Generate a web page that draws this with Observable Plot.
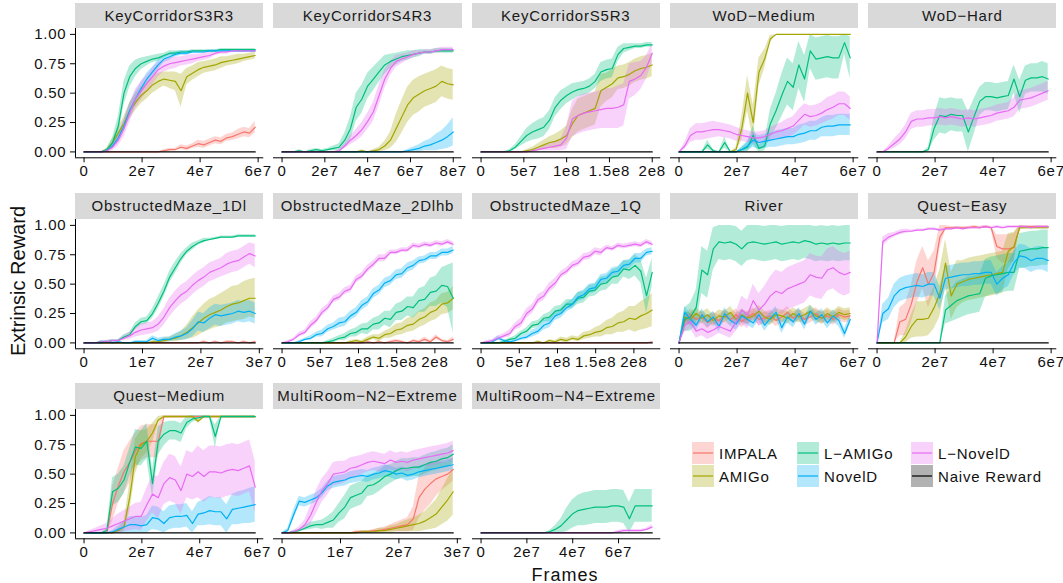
<!DOCTYPE html>
<html><head><meta charset="utf-8">
<script src="https://cdn.jsdelivr.net/npm/d3@7"></script>
<script src="https://cdn.jsdelivr.net/npm/@observablehq/plot@0.6"></script>
<style>
body{margin:0;background:#fff;}
#root{position:relative;width:1063px;height:583px;overflow:hidden;background:#fff;font-family:"Liberation Sans",Arial,sans-serif;color:#111;}
.strip{position:absolute;background:#d9d9d9;color:#1a1a1a;font-size:15px;letter-spacing:0.8px;text-align:center;white-space:nowrap;}
.panel{position:absolute;}
.ttl{position:absolute;white-space:nowrap;color:#111;}
.leg{position:absolute;font-size:15px;letter-spacing:0.8px;white-space:nowrap;color:#111;}
</style></head><body><div id="root"></div>
<script>
// ---------- series ----------
const seriesNames  = ["IMPALA","AMIGo","L-AMIGo","NovelD","L-NovelD","Naive Reward"];
const seriesLabels = ["IMPALA","AMIGo","L\u2212AMIGo","NovelD","L\u2212NovelD","Naive Reward"];
const seriesColors = ["#F8766D","#A3A500","#00BF7D","#00B0F6","#E76BF3","#000000"];
const naiveReward  = [0, 0];            // flat zero over each panel's frame range
const yTicks       = [0, 0.25, 0.5, 0.75, 1];
const yTickLabels  = ["0.00","0.25","0.50","0.75","1.00"];

// ---------- panels ----------
const panelTitles = ["KeyCorridorS3R3","KeyCorridorS4R3","KeyCorridorS5R3","WoD\u2212Medium","WoD\u2212Hard",
  "ObstructedMaze_1Dl","ObstructedMaze_2Dlhb","ObstructedMaze_1Q","River","Quest\u2212Easy",
  "Quest\u2212Medium","MultiRoom\u2212N2\u2212Extreme","MultiRoom\u2212N4\u2212Extreme"];
const panelXEnd = [5.9e7, 8e7, 2e8, 5.9e7, 5.9e7, 2.93e7, 2.24e8, 2.24e8, 5.9e7, 5.9e7, 5.92e7, 2.93e7, 7.47e7];
const panelTicks = [[0,2e7,4e7,6e7],[0,2e7,4e7,6e7,8e7],[0,5e7,1e8,1.5e8,2e8],[0,2e7,4e7,6e7],[0,2e7,4e7,6e7],
  [0,1e7,2e7,3e7],[0,5e7,1e8,1.5e8,2e8],[0,5e7,1e8,1.5e8,2e8],[0,2e7,4e7,6e7],[0,2e7,4e7,6e7],
  [0,2e7,4e7,6e7],[0,1e7,2e7,3e7],[0,2e7,4e7,6e7]];
const panelTickLabels = [["0","2e7","4e7","6e7"],["0","2e7","4e7","6e7","8e7"],["0","5e7","1e8","1.5e8","2e8"],["0","2e7","4e7","6e7"],["0","2e7","4e7","6e7"],
  ["0","1e7","2e7","3e7"],["0","5e7","1e8","1.5e8","2e8"],["0","5e7","1e8","1.5e8","2e8"],["0","2e7","4e7","6e7"],["0","2e7","4e7","6e7"],
  ["0","2e7","4e7","6e7"],["0","1e7","2e7","3e7"],["0","2e7","4e7","6e7"]];

// values in percent of extrinsic reward, evenly spaced over [0, xEnd]; band = half width of shaded ribbon
const mean_KC3 = {
 "IMPALA":  [0,0,0,0,0,0,0,0,0,0,0,0,0,0,1,2,2,4,3,5,7,6,8,10,9,12,13,15,17,16,21],
 "AMIGo":   [0,0,0,0,2,8,16,24,35,42,48,52,57,60,62,61,60,52,64,67,70,72,73,74,76,77,78,79,80,81,82],
 "L-AMIGo": [0,0,0,0,2,8,22,50,64,71,75,77,79,80,82,84,84,85,85,86,86,86,86,86,87,87,87,87,87,87,87],
 "NovelD":  [0,0,0,0,1,5,12,22,35,45,54,62,68,74,79,81,83,84,84,85,85,85,86,86,86,86,86,86,86,86,86],
 "L-NovelD":[0,0,0,0,1,4,10,20,33,45,52,58,64,70,73,75,76,77,78,79,80,81,82,84,85,85,86,86,86,86,86]};
const band_KC3 = {
 "IMPALA":  [0,0,0,0,0,0,0,0,0,0,0,0,0,0,1,1,1,2,2,2,3,3,3,3,3,3,3,4,4,4,5],
 "AMIGo":   [0,0,0,0,1,3,5,6,7,7,7,7,7,7,6,7,8,14,7,6,6,5,5,5,5,4,4,4,3,3,3],
 "L-AMIGo": [0,0,0,0,1,4,8,10,9,7,5,4,3,3,2,2,2,1,1,1,1,1,1,1,1,1,1,1,1,1,1],
 "NovelD":  [0,0,0,0,1,2,4,5,6,6,5,5,4,4,3,3,2,2,2,1,1,1,1,1,1,1,1,1,1,1,1],
 "L-NovelD":[0,0,0,0,1,3,5,7,8,8,8,7,7,6,5,5,5,4,4,4,3,3,3,2,2,2,1,1,1,1,1]};

const mean_KC4 = {
 "AMIGo":   [0,0,0,0,0,0,0,0,0,0,0,0,0,0,1,0,1,2,5,10,20,30,40,46,49,52,54,56,60,58,57],
 "L-AMIGo": [0,0,0,1,0,1,2,1,2,3,4,10,20,38,45,56,62,68,74,77,79,81,82,83,84,85,85,86,86,86,86],
 "NovelD":  [0,0,0,0,0,0,0,0,0,0,0,0,0,0,0,0,0,0,0,0,0,0,1,2,3,5,6,8,10,13,17],
 "L-NovelD":[0,0,0,0,0,0,0,0,0,0,1,5,10,14,19,26,34,48,62,71,77,79,81,83,84,85,85,86,87,87,87]};
const band_KC4 = {
 "AMIGo":   [0,0,0,0,0,0,0,0,0,0,0,0,0,0,1,0,1,2,4,7,12,14,15,15,15,14,14,14,13,13,13],
 "L-AMIGo": [0,0,0,1,0,1,1,1,1,2,3,6,10,12,12,11,10,9,8,6,5,4,4,3,3,2,2,2,2,2,2],
 "NovelD":  [0,0,0,0,0,0,0,0,0,0,0,0,0,0,0,0,0,0,0,0,0,0,1,2,3,4,5,7,8,10,12],
 "L-NovelD":[0,0,0,0,0,0,0,0,0,0,1,2,4,5,6,7,8,9,8,6,5,4,3,3,2,2,2,2,2,2,2]};

const mean_KC5 = {
 "AMIGo":   [0,0,0,0,0,0,0,0,1,2,4,6,8,9,11,14,24,31,33,35,37,52,55,58,63,64,66,69,71,72,74],
 "L-AMIGo": [0,0,0,0,0,1,4,9,14,17,19,21,27,38,44,48,51,53,54,56,60,68,70,71,83,88,89,90,90,91,91],
 "L-NovelD":[0,0,0,0,0,0,0,0,0,1,2,3,4,5,6,12,28,31,33,34,35,36,37,37,38,40,60,62,65,72,84]};
const band_KC5 = {
 "AMIGo":   [0,0,0,0,0,0,0,0,1,2,3,4,5,6,7,8,12,14,14,14,14,14,12,12,10,10,10,10,10,10,10],
 "L-AMIGo": [0,0,0,0,0,1,2,4,6,7,8,8,8,8,8,7,7,6,6,6,6,8,8,8,6,4,3,2,2,2,2],
 "L-NovelD":[0,0,0,0,0,0,0,0,0,1,1,2,3,4,5,10,15,16,16,16,16,16,17,17,18,18,15,14,12,10,8]};

const mean_WoDM = {
 "AMIGo":   [0,0,0,0,0,0,0,0,0,0,2,20,50,25,68,79,96,100,100,100,100,100,100,100,100,100,100,100,100,100,100],
 "L-AMIGo": [0,0,0,0,0,6,1,0,8,0,0,2,4,14,3,5,24,35,48,60,55,74,62,86,79,80,81,80,80,93,80],
 "NovelD":  [0,0,0,0,0,0,0,0,0,0,0,2,5,10,8,9,10,11,12,13,13,15,16,18,18,21,22,22,23,23,23],
 "L-NovelD":[0,5,14,17,17,18,19,19,18,17,15,14,13,12,12,13,15,17,18,20,22,27,32,30,31,33,36,38,41,41,37]};
const band_WoDM = {
 "AMIGo":   [0,0,0,0,0,0,0,0,0,0,2,10,15,15,12,8,3,0,0,0,0,0,0,0,0,0,0,0,0,0,0],
 "L-AMIGo": [0,0,0,0,0,4,1,0,5,0,0,2,4,8,3,4,12,15,18,20,20,20,20,15,18,18,18,18,18,10,18],
 "NovelD":  [0,0,0,0,0,0,0,0,0,0,0,2,4,6,6,6,6,7,7,7,7,8,8,8,8,8,9,9,9,9,9],
 "L-NovelD":[0,3,6,7,7,7,7,6,6,6,6,5,5,5,5,5,6,6,7,8,8,9,9,9,9,9,10,10,10,10,10]};

const mean_WoDH = {
 "L-AMIGo": [0,0,0,0,0,0,0,0,0,2,20,31,30,32,31,31,17,30,43,47,47,46,47,48,62,47,61,63,63,64,62],
 "L-NovelD":[0,0,3,7,11,17,26,28,28,29,29,30,29,30,29,28,29,28,29,30,31,33,34,35,38,44,45,46,48,50,52]};
const band_WoDH = {
 "L-AMIGo": [0,0,0,0,0,0,0,0,0,2,10,15,15,14,14,14,17,15,12,12,12,12,12,12,12,14,12,12,12,13,13],
 "L-NovelD":[0,0,2,4,5,6,7,7,7,7,7,7,7,7,7,7,7,7,7,7,7,7,7,7,8,8,8,8,8,8,8]};

const mean_OM1Dl = {
 "IMPALA":  [0,0,0,0,0,0,0,0,0,0,0,0,0,0,0,0,0,0,0,0,0,1,0,1,0,1,1,0,1,0,1],
 "AMIGo":   [0,0,0,0,0,0,0,0,0,0,0,0,1,1,2,3,4,6,9,13,17,21,24,26,28,31,33,34,36,38,38],
 "L-AMIGo": [0,0,0,1,1,2,2,5,7,14,18,19,25,34,44,56,64,72,78,82,85,87,88,89,90,90,90,91,91,91,91],
 "NovelD":  [0,0,0,0,1,0,1,0,0,1,1,1,4,2,3,3,5,6,8,12,18,17,21,24,23,24,25,27,26,27,25],
 "L-NovelD":[0,0,0,1,1,2,2,4,6,9,11,12,13,16,22,30,36,41,44,49,53,56,60,62,64,67,69,70,73,76,74]};
const band_OM1Dl = {
 "IMPALA":  [0,0,0,0,0,0,0,0,0,0,0,0,0,0,0,0,0,0,0,0,0,1,0,1,0,1,1,0,1,0,1],
 "AMIGo":   [0,0,0,0,0,0,0,0,0,0,0,0,1,1,2,2,3,4,6,9,11,12,13,13,14,14,15,15,16,16,17],
 "L-AMIGo": [0,0,0,1,1,1,1,2,2,3,3,3,4,5,5,5,5,4,3,3,2,2,1,1,1,1,1,1,1,1,1],
 "NovelD":  [0,0,0,0,1,0,1,0,0,1,1,1,2,2,2,2,3,4,5,7,8,8,9,9,9,9,9,9,9,9,9],
 "L-NovelD":[0,0,0,1,1,1,1,2,3,4,5,5,5,6,7,8,8,8,8,8,8,8,8,8,8,9,9,9,9,9,10]};

const mean_OM2Dlhb = {
 "IMPALA":  [0,0,0,0,0,0,0,0,0,0,0,0,0,0,0,1,0,1,0,1,2,1,0,2,1,3,1,5,2,1,3],
 "AMIGo":   [0,0,0,0,0,0,0,0,0,0,0,0,1,2,1,3,5,4,7,8,11,12,15,16,20,22,26,28,33,34,38],
 "L-AMIGo": [0,0,0,0,0,0,0,0,1,2,4,5,8,9,12,12,16,17,21,20,26,27,31,30,36,37,43,44,49,48,38],
 "NovelD":  [0,0,0,1,3,4,7,8,12,14,17,18,23,26,32,35,42,45,51,53,58,59,64,66,70,71,74,74,77,77,79],
 "L-NovelD":[0,1,3,7,9,15,19,26,30,37,39,44,46,54,57,63,67,72,72,77,77,79,79,83,82,84,83,85,84,86,84]};
const band_OM2Dlhb = {
 "IMPALA":  [0,0,0,0,0,0,0,0,0,0,0,0,0,0,0,1,0,1,0,1,1,1,0,1,1,2,1,2,1,1,2],
 "AMIGo":   [0,0,0,0,0,0,0,0,0,0,0,0,1,1,1,2,2,3,3,4,5,5,6,6,7,7,8,8,9,9,10],
 "L-AMIGo": [0,0,0,0,0,0,0,0,1,2,2,3,3,4,4,5,5,6,6,7,7,8,8,9,10,11,12,13,15,18,30],
 "NovelD":  [0,0,0,1,1,2,2,3,3,3,4,4,4,4,4,4,4,4,4,4,4,4,4,4,3,3,3,3,3,3,3],
 "L-NovelD":[0,1,1,2,2,3,3,3,3,3,3,3,3,3,3,3,3,3,3,2,2,2,2,2,2,2,2,2,2,2,2]};

const mean_OM1Q = {
 "IMPALA":  [0,0,0,0,0,0,0,0,0,0,0,0,0,0,0,0,0,0,0,0,0,0,0,0,0,0,0,0,0,0,1],
 "AMIGo":   [0,0,0,0,0,0,0,0,0,0,1,0,2,1,3,2,4,3,6,7,9,10,13,14,17,18,21,20,23,25,28],
 "L-AMIGo": [0,0,0,0,1,3,4,8,10,15,16,21,22,27,28,33,33,38,39,44,45,50,51,56,57,63,62,66,61,40,60],
 "NovelD":  [0,0,1,4,2,1,2,4,5,8,10,15,17,23,25,30,33,39,41,46,47,54,55,60,61,66,67,72,72,77,78],
 "L-NovelD":[0,1,2,4,6,8,14,17,25,29,37,40,47,51,58,61,66,68,73,74,78,77,81,80,83,82,83,84,83,86,84]};
const band_OM1Q = {
 "AMIGo":   [0,0,0,0,0,0,0,0,0,0,1,0,1,1,2,2,2,2,3,3,4,5,6,7,8,9,10,11,12,13,14],
 "L-AMIGo": [0,0,0,0,1,1,2,2,3,3,3,3,4,4,4,4,4,5,5,5,5,6,6,6,7,7,8,9,10,15,12],
 "NovelD":  [0,0,1,2,1,1,1,2,2,3,3,4,4,4,4,4,4,4,4,4,4,4,4,4,4,4,4,4,4,3,3],
 "L-NovelD":[0,1,1,2,2,3,3,4,4,4,4,4,4,4,3,3,3,3,3,3,3,3,2,2,2,2,2,2,2,2,2]};

const mean_River = {
 "IMPALA":  [0,18,24,20,22,17,21,19,23,20,24,18,22,25,20,21,23,19,22,26,21,24,20,22,25,21,23,20,24,22,23],
 "AMIGo":   [0,22,20,25,21,24,19,23,22,26,20,24,21,23,27,22,20,24,23,21,25,22,24,27,23,21,25,22,26,24,25],
 "L-AMIGo": [0,20,22,30,62,58,80,86,85,86,84,80,85,86,85,84,85,86,84,85,86,85,87,86,84,85,84,85,84,85,85],
 "NovelD":  [0,26,20,15,24,18,22,14,25,19,16,23,20,17,24,15,21,26,13,22,18,25,16,27,20,24,17,23,19,8,20],
 "L-NovelD":[0,15,18,10,12,9,11,14,12,10,18,28,24,36,28,33,40,44,42,46,48,50,52,58,56,55,62,64,60,58,60]};
const band_River = {
 "IMPALA":  [0,5,5,5,5,5,5,5,5,5,5,5,5,5,5,5,5,5,5,5,5,5,5,5,5,5,5,5,5,5,5],
 "AMIGo":   [0,5,5,5,5,5,5,5,5,5,5,5,5,5,5,5,5,5,5,5,5,5,5,5,5,5,5,5,5,5,5],
 "L-AMIGo": [0,10,12,15,20,20,18,15,15,15,15,15,15,15,15,15,15,15,15,15,15,15,15,15,15,15,15,15,15,15,15],
 "NovelD":  [0,5,5,5,5,5,5,5,5,5,5,5,5,5,5,5,5,5,5,5,5,5,5,5,5,5,5,5,5,4,4],
 "L-NovelD":[0,6,6,6,6,6,6,6,6,6,8,12,12,14,14,15,16,18,18,18,18,18,18,18,18,18,18,18,18,18,18]};

const mean_QEasy = {
 "IMPALA":  [0,0,0,0,18,20,33,52,64,50,60,90,98,98,98,98,98,99,98,99,98,82,80,80,81,99,99,99,99,99,99],
 "AMIGo":   [0,0,0,0,0,5,14,20,20,21,30,42,68,40,50,52,54,55,56,57,58,59,60,78,82,98,98,98,98,98,98],
 "L-AMIGo": [0,0,0,0,0,0,0,0,0,0,0,0,28,32,36,38,40,41,42,55,57,58,59,60,60,78,79,80,80,81,81],
 "NovelD":  [0,25,29,40,45,47,48,49,48,50,50,38,55,56,57,58,58,59,59,60,60,50,55,58,68,74,73,70,72,72,70],
 "L-NovelD":[0,86,90,92,94,95,95,96,96,97,97,96,97,97,98,97,98,98,98,99,98,99,98,99,99,99,99,98,99,99,99]};
const band_QEasy = {
 "IMPALA":  [0,0,0,0,12,14,16,18,18,20,18,10,2,1,1,1,1,1,1,1,1,10,12,12,12,1,1,1,1,1,1],
 "AMIGo":   [0,0,0,0,0,5,10,15,15,15,18,20,20,20,20,18,18,18,18,18,18,18,18,15,12,2,1,1,1,1,1],
 "L-AMIGo": [0,0,0,0,0,0,0,0,0,0,0,0,12,14,16,16,16,16,16,16,16,16,16,16,16,15,15,15,15,15,15],
 "NovelD":  [0,8,9,10,10,10,10,10,10,10,10,10,10,10,10,10,10,10,10,10,10,10,10,10,10,10,10,10,10,10,10],
 "L-NovelD":[0,4,3,2,2,2,1,1,1,1,1,1,1,1,1,1,1,1,1,1,1,1,1,1,1,1,1,1,1,1,1]};

const mean_QMed = {
 "IMPALA":  [0,0,0,0,0,25,40,52,60,70,76,78,78,78,99,99,99,99,99,99,99,99,99,99,99,99,99,99,99,99,99],
 "AMIGo":   [0,0,0,0,0,0,2,5,30,65,75,78,85,96,99,99,99,99,99,99,95,99,99,99,99,99,99,99,99,99,99],
 "L-AMIGo": [0,0,0,0,2,35,38,45,60,73,72,78,42,78,84,87,87,85,94,97,98,99,99,82,99,99,99,99,99,99,99],
 "NovelD":  [0,0,0,0,0,1,3,5,7,7,6,7,13,12,8,13,14,14,15,8,16,17,19,18,18,12,20,21,22,23,24],
 "L-NovelD":[0,1,2,3,4,6,8,10,12,14,14,24,33,30,42,47,45,36,50,48,52,48,52,52,51,53,54,53,55,57,39]};
const band_QMed = {
 "IMPALA":  [0,0,0,0,0,15,15,18,18,15,15,14,14,14,1,1,1,1,1,1,1,1,1,1,1,1,1,1,1,1,1],
 "AMIGo":   [0,0,0,0,0,0,2,4,12,15,12,10,8,3,1,1,1,1,1,1,2,1,1,1,1,1,1,1,1,1,1],
 "L-AMIGo": [0,0,0,0,2,12,12,12,12,15,15,15,12,12,10,8,8,8,5,3,2,1,1,10,1,1,1,1,1,1,1],
 "NovelD":  [0,0,0,0,0,1,3,5,7,7,7,8,10,10,10,10,10,10,10,10,10,11,12,12,12,12,13,14,14,15,15],
 "L-NovelD":[0,1,2,3,4,6,8,9,10,11,12,14,16,18,18,20,20,20,20,20,22,22,22,22,22,22,22,22,22,22,22]};

const mean_MRN2 = {
 "IMPALA":  [0,0,0,0,0,0,0,0,0,0,0,0,0,1,1,1,2,2,3,4,5,6,7,12,30,37,42,46,48,50,54],
 "AMIGo":   [0,0,0,0,0,0,0,0,0,0,0,0,0,0,1,1,1,2,2,3,4,5,6,7,8,10,13,16,22,28,35],
 "L-AMIGo": [0,0,1,2,4,6,7,7,9,11,17,22,30,32,34,40,41,44,48,50,53,55,55,56,56,58,60,61,63,64,67],
 "NovelD":  [0,2,15,27,26,28,30,34,40,43,44,45,47,48,49,48,50,51,53,52,50,51,49,50,52,53,54,55,56,57,58],
 "L-NovelD":[0,0,1,3,7,15,26,36,42,50,51,52,55,56,58,60,61,60,59,62,60,61,60,62,63,64,65,66,67,68,70]};
const band_MRN2 = {
 "IMPALA":  [0,0,0,0,0,0,0,0,0,0,0,0,0,1,1,1,1,2,2,3,4,5,6,10,18,18,18,15,12,10,10],
 "AMIGo":   [0,0,0,0,0,0,0,0,0,0,0,0,0,0,1,1,1,2,2,3,3,4,5,6,7,8,10,12,15,18,20],
 "L-AMIGo": [0,0,1,1,2,3,3,4,5,7,8,10,10,10,10,9,9,9,9,8,8,8,8,8,8,8,8,8,8,8,8],
 "NovelD":  [0,2,4,4,4,4,4,4,4,5,5,5,5,5,5,5,5,5,5,5,5,5,5,5,5,5,5,5,5,5,5],
 "L-NovelD":[0,0,1,2,4,8,10,10,10,10,10,9,9,9,8,8,8,8,8,8,8,8,8,8,8,8,8,8,8,8,8]};

const mean_MRN4 = {
 "L-AMIGo": [0,0,0,0,0,0,0,0,0,0,0,0,1,3,6,11,16,19,20,21,22,22,22,23,23,22,12,23,23,23,23],
 "L-NovelD":[0,0,0,0,0,0,0,0,0,0,0,0,0,0,0,0,0,0,0,0,0,0,0,0,1,2,2,2,2,3,5]};
const band_MRN4 = {
 "L-AMIGo": [0,0,0,0,0,0,0,0,0,0,0,0,1,3,6,10,12,13,14,14,14,14,14,14,14,14,14,14,14,14,14],
 "L-NovelD":[0,0,0,0,0,0,0,0,0,0,0,0,0,0,0,0,0,0,0,0,0,0,0,0,1,1,1,1,1,1,2]};

const panelMeans = [mean_KC3, mean_KC4, mean_KC5, mean_WoDM, mean_WoDH, mean_OM1Dl, mean_OM2Dlhb, mean_OM1Q, mean_River, mean_QEasy, mean_QMed, mean_MRN2, mean_MRN4];
const panelBands = [band_KC3, band_KC4, band_KC5, band_WoDM, band_WoDH, band_OM1Dl, band_OM2Dlhb, band_OM1Q, band_River, band_QEasy, band_QMed, band_MRN2, band_MRN4];

// ---------- layout ----------
const COL_LEFT0 = 75, COL_STEP = 198.3, PANEL_W = 188.3;
const ROW_TOP0 = 2.7, ROW_STEP = 190.3, STRIP_H = 25.6, PANEL_H = 129.3;
const ML = 50, MR = 20, MT = 2, MB = 34;
const root = document.getElementById("root");

function panel(k) {
  const r = Math.floor(k / 5), c = k % 5;
  const left = COL_LEFT0 + COL_STEP * c, top = ROW_TOP0 + ROW_STEP * r;
  const s = document.createElement("div");
  s.className = "strip";
  Object.assign(s.style, {left: left + "px", top: top + "px", width: PANEL_W + "px", height: STRIP_H + "px", lineHeight: STRIP_H + "px"});
  s.textContent = panelTitles[k];
  root.appendChild(s);

  const xEnd = panelXEnd[k];
  const xDom = [-0.05 * xEnd, 1.05 * xEnd], yDom = [-0.05, 1.05];
  const areas = [], lines = [];
  seriesNames.forEach((name, si) => {
    let m = panelMeans[k][name], b = panelBands[k][name] || [];
    if (name === "Naive Reward") { m = naiveReward; b = []; }
    if (!m) return;
    const rows = m.map((v, i) => {
      const h = b[i] || 0;
      return {x: xEnd * i / (m.length - 1), y: v / 100, lo: Math.max(0, (v - h) / 100), hi: Math.min(1, (v + h) / 100)};
    });
    if (name !== "Naive Reward")
      areas.push(Plot.areaY(rows, {x: "x", y1: "lo", y2: "hi", fill: seriesColors[si], fillOpacity: 0.3}));
    lines.push(Plot.lineY(rows, {x: "x", y: "y", stroke: seriesColors[si], strokeWidth: 1.2}));
  });
  const ticks = panelTicks[k], labs = panelTickLabels[k];
  const marks = [...areas, ...lines,
    Plot.ruleY([yDom[0]], {stroke: "#000", strokeWidth: 1}),
    Plot.axisX({ticks, tickFormat: d => labs[ticks.indexOf(d)], tickSize: 5, tickPadding: 3, label: null, stroke: "#000"})];
  if (c === 0) {
    marks.push(Plot.ruleX([xDom[0]], {stroke: "#000", strokeWidth: 1}));
    marks.push(Plot.axisY({ticks: yTicks, tickFormat: d => yTickLabels[yTicks.indexOf(d)], tickSize: 5, tickPadding: 4, label: null, stroke: "#000"}));
  }
  const svg = Plot.plot({
    width: ML + PANEL_W + MR, height: MT + PANEL_H + MB,
    marginLeft: ML, marginRight: MR, marginTop: MT, marginBottom: MB,
    x: {domain: xDom}, y: {domain: yDom, axis: c === 0 ? undefined : null},
    style: {fontFamily: '"Liberation Sans", Arial, sans-serif', fontSize: "15px", letterSpacing: "0.8px", color: "#111", background: "transparent", overflow: "visible"},
    marks
  });
  svg.classList.add("panel");
  Object.assign(svg.style, {position: "absolute", left: (left - ML) + "px", top: (top + STRIP_H - MT) + "px"});
  root.appendChild(svg);
}
for (let k = 0; k < panelTitles.length; k++) panel(k);

// axis titles
const yt = document.createElement("div");
yt.className = "ttl"; yt.textContent = "Extrinsic Reward";
Object.assign(yt.style, {fontSize: "20px", left: "18px", top: "281px", transform: "translate(-50%,-50%) rotate(-90deg)"});
root.appendChild(yt);
const xt = document.createElement("div");
xt.className = "ttl"; xt.textContent = "Frames";
Object.assign(xt.style, {fontSize: "18px", letterSpacing: "1px", left: "565px", top: "575px", transform: "translate(-50%,-50%)"});
root.appendChild(xt);

// legend (column-major, 2 rows)
const legColX = [692, 797, 911], legRowY = [453, 476];
seriesNames.forEach((name, i) => {
  const col = Math.floor(i / 2), row = i % 2;
  const kx = legColX[col], ky = legRowY[row];
  const sw = d3.create("svg").attr("width", 22).attr("height", 22)
    .style("position", "absolute").style("left", kx + "px").style("top", (ky - 11) + "px");
  sw.append("rect").attr("x", 0).attr("y", 0).attr("width", 22).attr("height", 22)
    .attr("fill", seriesColors[i]).attr("fill-opacity", 0.3);
  sw.append("line").attr("x1", 1).attr("x2", 21).attr("y1", 11).attr("y2", 11)
    .attr("stroke", seriesColors[i]).attr("stroke-width", 1.2);
  root.appendChild(sw.node());
  const t = document.createElement("div");
  t.className = "leg"; t.textContent = seriesLabels[i];
  Object.assign(t.style, {left: (kx + 27) + "px", top: ky + "px", transform: "translateY(-50%)"});
  root.appendChild(t);
});
</script></body></html>
